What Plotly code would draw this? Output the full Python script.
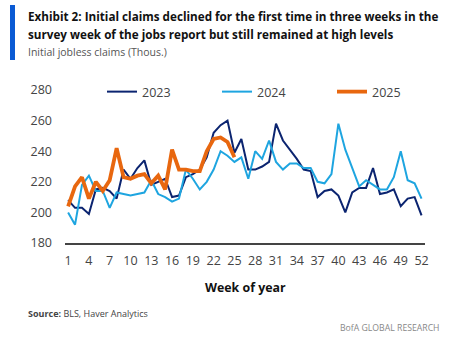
import plotly.graph_objects as go

weeks = list(range(1, 53))
y2023 = [208, 203, 203, 199, 215, 216, 214, 209, 228, 222, 229, 234, 218, 220, 222, 210,
         211, 223, 225, 228, 236, 252, 257, 260, 239, 248, 228, 228, 230, 233, 258, 247,
         241, 235, 228, 227, 210, 214, 215, 211, 200, 213, 216, 216, 229, 212, 213, 215,
         204, 209, 210, 198]
y2024 = [200, 192, 218, 224, 214, 214, 203, 213, 212, 211, 212, 213, 221, 212, 210, 207,
         209, 228, 222, 215, 220, 228, 240, 237, 233, 236, 222, 240, 235, 247, 233, 228,
         232, 232, 229, 229, 220, 219, 225, 258, 241, 229, 217, 221, 218, 215, 215, 223,
         240, 221, 219, 209]
y2025 = [204, 217, 223, 209, 220, 214, 221, 242, 223, 222, 224, 225, 219, 224, 215, 241,
         228, 228, 227, 227, 240, 248, 249, 246, 236]
ytick_vals = [180, 200, 220, 240, 260, 280]
xtick_vals = list(range(1, 53, 3))

NAVY = "#0b2470"
LBLUE = "#1ea5e0"
ORANGE = "#e8670f"
FONT = "Open Sans, Roboto, Arial"

fig = go.Figure()
fig.add_trace(go.Scatter(x=weeks, y=y2023, mode="lines", name="2023",
                         line=dict(color=NAVY, width=2)))
fig.add_trace(go.Scatter(x=weeks[:len(y2024)], y=y2024, mode="lines", name="2024",
                         line=dict(color=LBLUE, width=2)))
fig.add_trace(go.Scatter(x=weeks[:len(y2025)], y=y2025, mode="lines", name="2025",
                         line=dict(color=ORANGE, width=3.8)))

L, R, T, B = 65, 45, 90, 97
W, H = 470, 340
pw, ph = W - L - R, H - T - B

def px(x):
    return (x - L) / pw

def py(y):
    return (H - B - y) / ph

fig.update_layout(
    width=W, height=H,
    margin=dict(l=L, r=R, t=T, b=B),
    paper_bgcolor="white", plot_bgcolor="white",
    font=dict(family=FONT, color="#444444", size=12.5),
    showlegend=True,
    legend=dict(orientation="h", x=px(102), y=py(92), xanchor="left", yanchor="middle",
                font=dict(size=12.5, color="#444444"), entrywidth=70, itemwidth=30,
                bgcolor="rgba(0,0,0,0)"),
    xaxis=dict(range=[0.55, 52.5], tickvals=xtick_vals, ticktext=[str(v) for v in xtick_vals],
               showgrid=False, zeroline=False, showline=True, linecolor="#444444", linewidth=2,
               ticks="", ticklabelstandoff=5, tickfont=dict(size=12.5, color="#444444")),
    yaxis=dict(range=[180, 280], tickvals=ytick_vals, showgrid=False, zeroline=False,
               showline=False, ticks="", ticklabelstandoff=12,
               tickfont=dict(size=12.5, color="#444444")),
    shapes=[dict(type="rect", xref="paper", yref="paper", x0=px(10), x1=px(15),
                 y0=py(60), y1=py(5), fillcolor="#0a5ad4", line=dict(width=0))],
    annotations=[
        dict(text="<b>Exhibit 2: Initial claims declined for the first time in three weeks in the</b>",
             xref="paper", yref="paper", x=px(26), y=py(16), xanchor="left", yanchor="middle",
             showarrow=False, font=dict(size=11.7, color="#111111", family=FONT)),
        dict(text="<b>survey week of the jobs report but still remained at high levels</b>",
             xref="paper", yref="paper", x=px(26), y=py(34), xanchor="left", yanchor="middle",
             showarrow=False, font=dict(size=11.7, color="#111111", family=FONT)),
        dict(text="Initial jobless claims (Thous.)",
             xref="paper", yref="paper", x=px(26), y=py(52), xanchor="left", yanchor="middle",
             showarrow=False, font=dict(size=10.5, color="#555555", family=FONT)),
        dict(text="<b>Week of year</b>",
             xref="paper", yref="paper", x=px(245), y=py(287), xanchor="center", yanchor="middle",
             showarrow=False, font=dict(size=12.4, color="#111111", family=FONT)),
        dict(text="<b>Source:</b> BLS, Haver Analytics",
             xref="paper", yref="paper", x=px(26), y=py(313), xanchor="left", yanchor="middle",
             showarrow=False, font=dict(size=9, color="#444444", family=FONT)),
        dict(text="BofA GLOBAL RESEARCH",
             xref="paper", yref="paper", x=px(442), y=py(328), xanchor="right", yanchor="middle",
             showarrow=False, font=dict(size=8.7, color="#888888", family=FONT)),
    ],
)

fig.write_html("out.html")
